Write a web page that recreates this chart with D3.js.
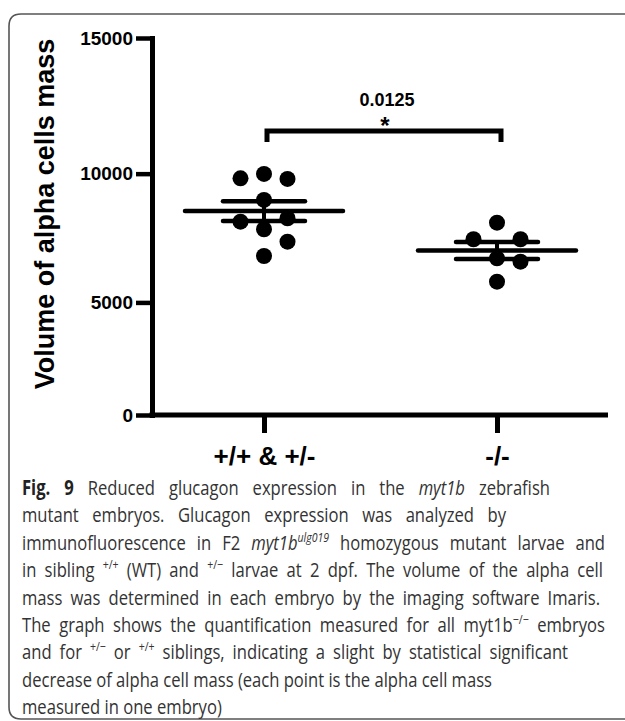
<!DOCTYPE html>
<html><head><meta charset="utf-8">
<script src="https://cdn.jsdelivr.net/npm/d3@7"></script>
<style>html,body{margin:0;padding:0;background:#fff;} svg{display:block}</style>
</head><body>
<svg id="chart" width="625" height="721"></svg>
<script>
// ---------- data ----------
const categories = ["+/+ & +/-", "-/-"];
const wtValues = [9825, 9989, 9800, 9005, 8174, 8304, 7881, 7401, 6844];
const wtColumn = [-1, 0, 1, 0, -1, 1, 0, 1, 0];
const koValues = [8135, 7494, 7494, 6753, 6620, 5831];
const koColumn = [0, -1, 1, 0, 1, 0];
const yTicks = [0, 5000, 10000, 15000];
const yTitle = "Volume of alpha cells mass";
const pValue = "0.0125";
const sigMark = "*";
const captionLines = [
  [["Fig. 9","b"],[" Reduced glucagon expression in the ",""],["myt1b","i"],[" zebrafish",""]],
  [["mutant embryos. Glucagon expression was analyzed by",""]],
  [["immunofluorescence in F2 ",""],["myt1b","i"],["ulg019","isup"],[" homozygous mutant larvae and",""]],
  [["in sibling ",""],["+/+","sup"],[" (WT) and ",""],["+/\u2212","sup"],[" larvae at 2 dpf. The volume of the alpha cell",""]],
  [["mass was determined in each embryo by the imaging software Imaris.",""]],
  [["The graph shows the quantification measured for all myt1b",""],["\u2212/\u2212","sup"],[" embryos",""]],
  [["and for ",""],["+/\u2212","sup"],[" or ",""],["+/+","sup"],[" siblings, indicating a slight by statistical significant",""]],
  [["decrease of alpha cell mass (each point is the alpha cell mass",""]],
  [["measured in one embryo)",""]]
];

// ---------- layout ----------
const captionEnds = [550, 506, 605, 603, 600, 605, 568, 492, null];
const AX = 152, AY = 415, XEND = 608;
const svg = d3.select("#chart");
const boldFont = "'Liberation Sans', Arial, sans-serif";

// frame
svg.append("path")
  .attr("d", "M640,14 L21,14 Q9,14 9,26 L9,707 Q9,719 21,719 L640,719")
  .attr("fill", "none").attr("stroke", "#555").attr("stroke-width", 1.6);

const y = d3.scalePow().exponent(1.1).domain([0, 15000]).range([AY, 38]);
const x = d3.scalePoint().domain(categories).range([264, 497]);

// y axis
const gy = svg.append("g").attr("transform", `translate(${AX},0)`)
  .call(d3.axisLeft(y).tickValues(yTicks).tickSize(16).tickSizeOuter(0).tickPadding(3).tickFormat(d3.format("d")));
gy.select(".domain").attr("stroke", "#000").attr("stroke-width", 5).attr("stroke-linecap", "square");
gy.selectAll(".tick line").attr("stroke", "#000").attr("stroke-width", 4.5);
gy.selectAll(".tick text").attr("fill", "#000").style("font", `bold 19px ${boldFont}`);

// x axis
const gx = svg.append("g").attr("transform", `translate(0,${AY})`)
  .call(d3.axisBottom(x).tickSize(18).tickPadding(14));
gx.select(".domain").remove();
gx.selectAll(".tick line").attr("stroke", "#000").attr("stroke-width", 5);
gx.selectAll(".tick text").attr("fill", "#000").style("font", `bold 26px ${boldFont}`);
svg.append("line").attr("x1", AX - 2.5).attr("x2", XEND).attr("y1", AY).attr("y2", AY)
  .attr("stroke", "#000").attr("stroke-width", 5);

// y title
svg.append("text").attr("transform", "translate(54,214) rotate(-90)")
  .attr("text-anchor", "middle").style("font", `bold 27px ${boldFont}`).attr("fill", "#000")
  .text(yTitle);

// groups
const groups = [
  {cat: categories[0], values: wtValues, cols: wtColumn},
  {cat: categories[1], values: koValues, cols: koColumn}
];
const colStep = 23.5, meanHalf = 79, semHalf = 41;
groups.forEach(g => {
  const cx = x(g.cat);
  const m = d3.mean(g.values);
  const sem = d3.deviation(g.values) / Math.sqrt(g.values.length);
  const gg = svg.append("g");
  gg.selectAll("circle").data(g.values).join("circle")
    .attr("cx", (d, i) => cx + g.cols[i] * colStep)
    .attr("cy", d => y(d)).attr("r", 8).attr("fill", "#000");
  gg.append("line").attr("x1", cx - meanHalf).attr("x2", cx + meanHalf)
    .attr("y1", y(m)).attr("y2", y(m)).attr("stroke", "#000").attr("stroke-width", 4.5).attr("stroke-linecap", "round");
  [m + sem, m - sem].forEach(v => {
    gg.append("line").attr("x1", cx - semHalf).attr("x2", cx + semHalf)
      .attr("y1", y(v)).attr("y2", y(v)).attr("stroke", "#000").attr("stroke-width", 4.5).attr("stroke-linecap", "round");
  });
  gg.append("line").attr("x1", cx).attr("x2", cx).attr("y1", y(m + sem)).attr("y2", y(m - sem))
    .attr("stroke", "#000").attr("stroke-width", 4);
});

// significance bracket
const bx0 = x(categories[0]) + 3, bx1 = x(categories[1]) + 4, bTop = 131, bBot = 142;
svg.append("path").attr("d", `M${bx0},${bBot} V${bTop} H${bx1} V${bBot}`)
  .attr("fill", "none").attr("stroke", "#000").attr("stroke-width", 5);
const bMid = (bx0 + bx1) / 2;
svg.append("text").attr("x", bMid + 3).attr("y", 106).attr("text-anchor", "middle")
  .style("font", `bold 18px ${boldFont}`).text(pValue);
svg.append("text").attr("x", bMid + 1).attr("y", 134).attr("text-anchor", "middle")
  .style("font", `bold 24px ${boldFont}`).text(sigMark);

// caption
const sx = 0.81, capX = 22, capY0 = 495, capDY = 27.4;
const cap = svg.append("g").attr("transform", `translate(${capX},0) scale(${sx},1)`);
captionLines.forEach((segs, i) => {
  const t = cap.append("text").attr("x", 0).attr("y", capY0 + i * capDY)
    .style("font-family", "'Open Sans', 'Noto Sans', sans-serif").style("font-size", "20.5px")
    .attr("fill", "#333");
  let shifted = false;
  segs.forEach(([txt, st]) => {
    const sp = t.append("tspan").text(txt);
    const isSup = st === "sup" || st === "isup";
    if (isSup && !shifted) { sp.attr("dy", -8); shifted = true; }
    else if (!isSup && shifted) { sp.attr("dy", 8); shifted = false; }
    if (isSup) sp.style("font-size", "13px");
    if (st === "b") sp.style("font-weight", "bold").attr("fill", "#222");
    if (st === "i" || st === "isup") sp.style("font-style", "italic");
  });
  if (captionEnds[i] != null) {
    const w = t.node().getComputedTextLength();
    const target = (captionEnds[i] - capX) / sx;
    const spaces = segs.map(s => s[0]).join("").split(" ").length - 1;
    if (spaces > 0) t.attr("word-spacing", Math.max((target - w) / spaces, -2));
  }
});
</script>
</body></html>
